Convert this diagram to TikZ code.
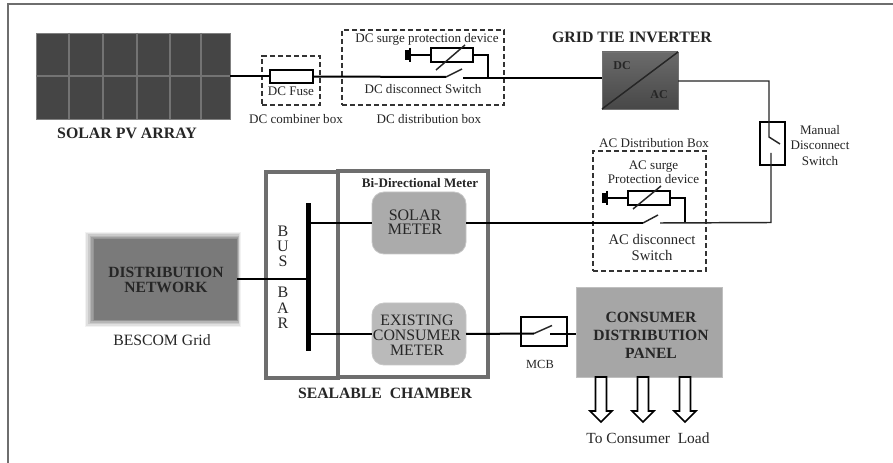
\documentclass[tikz,border=0pt]{standalone}
\usepackage{fontspec}
\setmainfont{Liberation Serif}
\usetikzlibrary{arrows.meta}
\definecolor{txt}{HTML}{262626}
\definecolor{frameg}{HTML}{6E6E6E}
\newcommand{\fs}[1]{\fontsize{#1}{#1}\selectfont}
\tikzset{
  x=0.75pt,y=-0.75pt,
  wh/.style 2 args={rectangle,minimum width=#1*0.75pt,minimum height=#2*0.75pt,inner sep=0pt,outer sep=0pt},
  lbl/.style={text=txt,inner sep=0pt,align=center,font=\fs{9.8}},
  bigbold/.style={text=txt,inner sep=0pt,align=center,font=\fs{11.9}\bfseries},
  wire/.style={draw=black,line width=1.5pt},
  thin wire/.style={draw=black!85,line width=1.1pt},
  dashbox/.style={draw=black!80,line width=0.8pt,dash pattern=on 4pt off 2pt},
  elem/.style={draw=black,line width=1.4pt,fill=white},
  chamber/.style={draw=frameg,line width=2.3pt},
  meter/.style={rounded corners=9pt},
  openarrow/.style={draw=black,line width=1.2pt,fill=white},
}
\begin{document}
\begin{tikzpicture}
\useasboundingbox (0,0) rectangle (893,463);
\fill[white] (0,0) rectangle (893,463);
% page frame
\coordinate (ftr) at (893,4);
\coordinate (ftl) at (8,4);
\coordinate (fbl) at (8,463);
\draw[draw=frameg,line width=0.9pt] (ftr) -- (ftl) -- (fbl);

% PV array
\node[wh={194}{86},fill=black!73,draw=black!50,line width=0.7pt] (pv) at (133,76) {};
\foreach \xx in {69,103,137,170,201}{\draw[black!55,line width=0.9pt] (\xx,33) -- (\xx,119);}
\draw[black!55,line width=0.9pt] (36,76) -- (230,76);
\node[bigbold] (pvl) at (127,133) {SOLAR PV ARRAY};

% DC side
\node[wh={58}{49},dashbox] (combbox) at (291,80.5) {};
\node[wh={162}{75},dashbox] (distbox) at (423,67.5) {};
\node[wh={43}{13},elem] (fuse) at (291.5,76.5) {};
\node[lbl] (fusel) at (291,91) {DC Fuse};
\node[lbl] (combl) at (296,119) {DC combiner box};
\node[lbl] (distl) at (429,119) {DC distribution box};
\node[lbl] (surgel) at (427,39) {DC surge protection device};
\node[lbl] (discl) at (423,89.5) {DC disconnect Switch};
\node[wh={42}{14},elem] (dcres) at (452,55) {};
\coordinate (dcgnd) at (411,55);
\coordinate (dcsa) at (446,77);
\coordinate (dcsb) at (462,69);
\coordinate (dcsc) at (463,78);
\coordinate (dcjn) at (488,78);
\coordinate (dcv1) at (436,70);
\coordinate (dcv2) at (465,45);
\draw[wire] (pv.east|-fuse.west) -- (fuse.west);
\draw[wire] (fuse.east) -- (dcsa);
\draw[thin wire] (dcsa) -- (dcsb);
\draw[wire] (dcres.west) -- (dcgnd);
\draw[line width=2.8pt] (407,50) -- (407,60);
\draw[line width=1.2pt] (410,48) -- (410,62);
\draw[wire] (dcres.east) -- ++(15,0) -- (dcjn);
\draw[thin wire] (dcv1) -- (dcv2);
\node[wh={76}{57},draw=black!55,line width=0.4pt,top color=black!58,bottom color=black!72] (inv) at (640,80.5) {};
\draw[wire] (dcsc) -- (inv.west|-dcsc);
\draw[thin wire] (inv.south west) -- (inv.north east);
\node[lbl,font=\fs{9}\bfseries] (invdc) at (622,66) {DC};
\node[lbl,font=\fs{9}\bfseries] (invac) at (659,95) {AC};
\node[bigbold] (invl) at (632,37) {GRID TIE INVERTER};

% Manual switch
\node[wh={25}{43},elem,fill=none] (manual) at (772.5,143.5) {};
\coordinate (mtop) at (769,81);
\coordinate (mpiv) at (769,137);
\coordinate (mend) at (780,144);
\coordinate (mlow) at (771,153);
\coordinate (mbot) at (771,222.5);
\draw[thin wire] (inv.east|-mtop) -- (mtop) -- (mpiv) -- (mend);
\node[lbl] (manl) at (820,145.5) {Manual\\[1.6pt]Disconnect\\[1.6pt]Switch};

% AC distribution box
\node[wh={113}{120},dashbox] (acbox) at (649.5,211) {};
\node[lbl] (acl) at (654,143) {AC Distribution Box};
\node[lbl] (acsl) at (653.5,172) {AC surge\\[0.7pt]Protection device};
\node[lbl,font=\fs{11}] (acdl) at (652,247) {AC disconnect\\[1pt]Switch};
\node[wh={42}{14},elem] (acres) at (649,198) {};
\coordinate (acgnd) at (608,198);
\coordinate (acsa) at (643,223);
\coordinate (acsb) at (658,215);
\coordinate (acsc) at (660,223);
\coordinate (acjn) at (685,223);
\draw[wire] (acres.west) -- (acgnd);
\draw[line width=2.8pt] (604,193) -- (604,203);
\draw[line width=1.2pt] (607,191) -- (607,205);
\draw[wire] (acres.east) -- ++(15,0) -- (acjn);
\draw[thin wire] (633,209) -- (661,186);
\draw[thin wire] (acsc) -- (mbot) -- (mlow);
\draw[thin wire] (acsa) -- (acsb);

% Chamber
\node[wh={72}{206},chamber] (busbox) at (302,275) {};
\node[wh={150}{206},chamber] (bidir) at (413,274) {};
\node[lbl,font=\fs{9.8}\bfseries] (bidirl) at (420,183) {Bi-Directional Meter};
\node[wh={94}{62},meter,fill=black!33,draw=black!22,line width=0.6pt] (solar) at (419,223) {};
\node[text=txt,inner sep=0pt,align=center,font=\fs{12}] (solarl) at (415,222) {SOLAR\\[-1.5pt]METER};
\node[wh={94}{62},meter,fill=black!27,draw=black!22,line width=0.6pt] (exist) at (419,334) {};
\node[text=txt,inner sep=0pt,align=center,font=\fs{11.9}] (existl) at (417,335) {EXISTING\\[-0.7pt]CONSUMER\\[-0.7pt]METER};
\node[wh={5}{148},fill=black] (bus) at (308.5,277) {};
\node[text=txt,inner sep=0pt,align=center,font=\fs{12}] (busl) at (283,246.5) {B\\[-0.5pt]U\\[-0.5pt]S};
\node[text=txt,inner sep=0pt,align=center,font=\fs{12}] (barl) at (283,308) {B\\[-0.5pt]A\\[-0.5pt]R};
\node[bigbold,font=\fs{11.8}\bfseries] (chl) at (385,393) {SEALABLE\ \ CHAMBER};
\coordinate (busa) at (bus.east|-solar.west);
\coordinate (busb) at (bus.east|-exist.west);
\draw[wire] (busa) -- (solar.west);
\draw[wire] (busb) -- (exist.west);
\draw[wire] (solar.east) -- (acsa|-solar.east);

% Distribution network
\foreach \g/\o in {5/0.05,4/0.07,3/0.09,2/0.1,1/0.12}{
  \fill[black,opacity=\o] (93-\g*1.7,238-\g*1.2) rectangle (237+\g*0.8,320+\g*1.4);}
\node[wh={144}{82},fill=black!52,draw=black!42,line width=0.5pt] (dn) at (165,279) {};
\node[text=txt,inner sep=0pt,align=center,font=\fs{11.7}\bfseries] (dnl) at (166,279.5) {DISTRIBUTION\\[-0.4pt]NETWORK};
\node[lbl,font=\fs{11.8}] (dngl) at (162,340) {BESCOM Grid};
\draw[wire] (dn.east) -- (bus.west|-dn.east);

% MCB and panel
\node[wh={46}{29},elem,fill=none] (mcb) at (544,331.5) {};
\coordinate (mcba) at (534,333.5);
\coordinate (mcbb) at (552,325.5);
\coordinate (mcbc) at (550,334);
\node[wh={146}{90},fill=black!35,draw=black!25,line width=0.4pt] (panel) at (649,332) {};
\node[text=txt,inner sep=0pt,align=center,font=\fs{11.7}\bfseries] (panell) at (651,335.5) {CONSUMER\\[2pt]DISTRIBUTION\\[2pt]PANEL};
\draw[wire] (exist.east) -- (mcba);
\draw[thin wire] (mcba) -- (mcbb);
\draw[wire] (mcbc) -- (panel.west|-mcbc);
\node[lbl,font=\fs{9.3}] (mcbl) at (540,364) {MCB};

% Load arrows
\foreach \xx/\nm in {601/a,643/b,685/c}{
  \coordinate (load\nm) at (\xx,377);
  \draw[openarrow] (\xx-5.5,377) -- (\xx-5.5,411) -- (\xx-11,411) -- (\xx,422) -- (\xx+11,411) -- (\xx+5.5,411) -- (\xx+5.5,377) -- cycle;
}
\node[lbl,font=\fs{11.6}] (loadl) at (648,438) {To Consumer\ \ Load};
\end{tikzpicture}
\end{document}
